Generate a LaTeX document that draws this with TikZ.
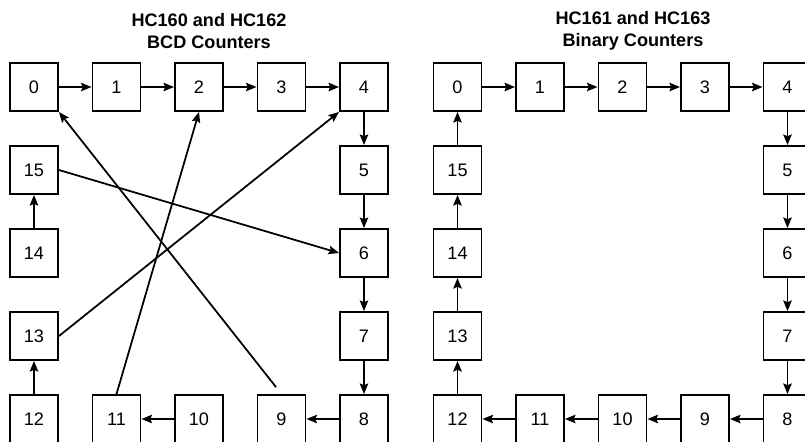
\documentclass[tikz,border=0pt]{standalone}
\usepackage{fontspec}
\setmainfont{Liberation Sans}
\usetikzlibrary{arrows.meta,positioning}

\begin{document}
\begin{tikzpicture}[
        x=0.02cm, y=-0.02cm,
        every node/.style={font=\fontsize{10.3}{12.5}\selectfont},
        state/.style={draw, line width=1.1pt, minimum size=0.96cm, inner sep=0pt},
        title/.style={align=center, font=\fontsize{10.3}{12.5}\selectfont\bfseries},
        link/.style={draw, line width=1.1pt, -{Stealth[length=6pt,width=4.8pt,inset=1pt]}},
        cross/.style={link, line width=1pt},
    ]
    \useasboundingbox (0,0) rectangle (805,441);

    % === LEFT: BCD counters ===
    \node[title] (Ltitle) at (209,31) {HC160 and HC162\\BCD Counters};

    % top row
    \node[state] (L0) at (34,87) {0};
    \node[state] (L1) at (116.5,87) {1};
    \node[state] (L2) at (199,87) {2};
    \node[state] (L3) at (281.5,87) {3};
    \node[state] (L4) at (364,87) {4};
    % right column
    \node[state] (L5) at (364,170) {5};
    \node[state] (L6) at (364,253) {6};
    \node[state] (L7) at (364,336) {7};
    \node[state] (L8) at (364,419) {8};
    % bottom row
    \node[state] (L9) at (281.5,419) {9};
    \node[state] (L10) at (199,419) {10};
    \node[state] (L11) at (116.5,419) {11};
    \node[state] (L12) at (34,419) {12};
    % left column
    \node[state] (L13) at (34,336) {13};
    \node[state] (L14) at (34,253) {14};
    \node[state] (L15) at (34,170) {15};

    \draw[link] (L0) -- (L1);
    \draw[link] (L1) -- (L2);
    \draw[link] (L2) -- (L3);
    \draw[link] (L3) -- (L4);
    \draw[link] (L4) -- (L5);
    \draw[link] (L5) -- (L6);
    \draw[link] (L6) -- (L7);
    \draw[link] (L7) -- (L8);
    \draw[link] (L8) -- (L9);
    \draw[link] (L10) -- (L11);
    \draw[link] (L12) -- (L13);
    \draw[link] (L14) -- (L15);

    % skips back to the start
    \draw[cross, shorten <=5pt] (L9.north) -- (L0.south east);
    \draw[cross] (L11.north) -- (L2.south);
    \draw[cross] (L13.east) -- (L4.south west);
    \draw[cross] (L15.east) -- (L6.west);

    % === RIGHT: binary counters ===
    \node[title] (Rtitle) at (633,31) {HC161 and HC163\\Binary Counters};

    % top row
    \node[state] (R0) at (457.5,87) {0};
    \node[state] (R1) at (540,87) {1};
    \node[state] (R2) at (622.5,87) {2};
    \node[state] (R3) at (705,87) {3};
    \node[state] (R4) at (787.5,87) {4};
    % right column
    \node[state] (R5) at (787.5,170) {5};
    \node[state] (R6) at (787.5,253) {6};
    \node[state] (R7) at (787.5,336) {7};
    \node[state] (R8) at (787.5,419) {8};
    % bottom row
    \node[state] (R9) at (705,419) {9};
    \node[state] (R10) at (622.5,419) {10};
    \node[state] (R11) at (540,419) {11};
    \node[state] (R12) at (457.5,419) {12};
    % left column
    \node[state] (R13) at (457.5,336) {13};
    \node[state] (R14) at (457.5,253) {14};
    \node[state] (R15) at (457.5,170) {15};

    \draw[link] (R0) -- (R1);
    \draw[link] (R1) -- (R2);
    \draw[link] (R2) -- (R3);
    \draw[link] (R3) -- (R4);
    \draw[link] (R4) -- (R5);
    \draw[link] (R5) -- (R6);
    \draw[link] (R6) -- (R7);
    \draw[link] (R7) -- (R8);
    \draw[link] (R8) -- (R9);
    \draw[link] (R9) -- (R10);
    \draw[link] (R10) -- (R11);
    \draw[link] (R11) -- (R12);
    \draw[link] (R12) -- (R13);
    \draw[link] (R13) -- (R14);
    \draw[link] (R14) -- (R15);
    \draw[link] (R15) -- (R0);

\end{tikzpicture}
\end{document}
